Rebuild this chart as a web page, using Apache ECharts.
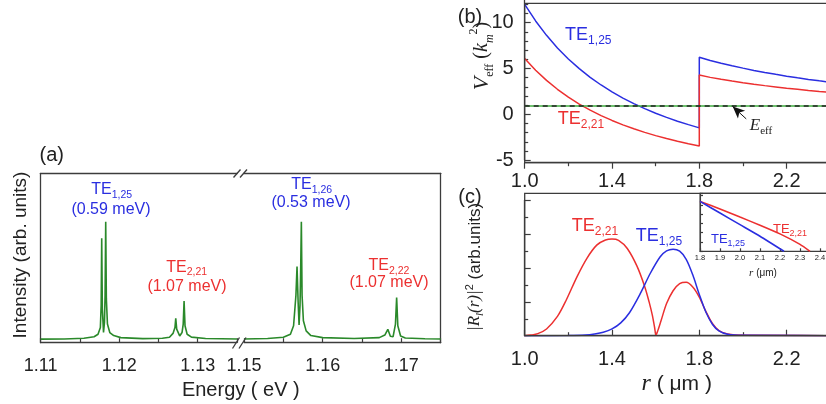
<!DOCTYPE html>
<html>
<head>
<meta charset="utf-8">
<script src="https://cdn.jsdelivr.net/npm/echarts@6/dist/echarts.min.js"></script>
<style>
html, body {margin: 0; padding: 0; background: #fff;}
#main {width: 826px; height: 404px;}
</style>
</head>
<body>
<div id="main"></div>
<script>
// (a) spectrum, split at the axis break
var specLeft = [[1.1100, 2.1], [1.1130, 2.2], [1.1155, 2.6], [1.1168, 3.5], [1.1173, 5.0], [1.1176, 9], [1.11770, 22], [1.11777, 61.6], [1.11785, 20], [1.11800, 6.0], [1.11812, 12], [1.11820, 28], [1.11828, 71.4], [1.11836, 26], [1.11850, 11], [1.1188, 6.0], [1.1193, 4.2], [1.1202, 3.0], [1.1230, 2.4], [1.1255, 2.6], [1.1264, 3.2], [1.12685, 5.5], [1.12710, 9], [1.12720, 14.4], [1.12732, 8], [1.12770, 4.0], [1.12800, 6], [1.12815, 11], [1.12826, 24.6], [1.12838, 10], [1.12865, 5], [1.1292, 3.3], [1.1310, 2.5], [1.1350, 2.2]];
var specRight = [[1.1500, 2.2], [1.1530, 2.5], [1.1550, 3.2], [1.1559, 5], [1.1563, 10], [1.1566, 28], [1.15674, 44.9], [1.15688, 24], [1.15700, 10.4], [1.15712, 22], [1.15721, 45], [1.15729, 71.4], [1.15738, 28], [1.15755, 13], [1.1579, 7], [1.1585, 4.2], [1.1600, 3.0], [1.1640, 2.5], [1.1672, 3.0], [1.1679, 4.5], [1.16828, 7.9], [1.16860, 3.8], [1.16895, 3.6], [1.16925, 11], [1.16940, 26.6], [1.16955, 10], [1.16990, 4.0], [1.1705, 2.8], [1.1730, 2.3], [1.1750, 2.2]];
var aTickStep = 0.005;   // ticks every 0.005 eV, labels every 0.01

// (b) effective potential
var vBlue = [[1.00, 12.0], [1.05, 10.19], [1.10, 8.62], [1.15, 7.24], [1.20, 6.04], [1.25, 4.98], [1.30, 4.04], [1.35, 3.20], [1.40, 2.45], [1.45, 1.77], [1.50, 1.17], [1.55, 0.62], [1.60, 0.12], [1.65, -0.34], [1.70, -0.75], [1.75, -1.13], [1.80, -1.48],
    [1.80, 6.22], [1.85, 5.88], [1.90, 5.58], [1.95, 5.30], [2.00, 5.04], [2.05, 4.79], [2.10, 4.57], [2.15, 4.36], [2.20, 4.16], [2.25, 3.98], [2.30, 3.81], [2.35, 3.65], [2.40, 3.50], [2.45, 3.36], [2.50, 3.22], [2.55, 3.10], [2.60, 2.98]];
var vRed = [[1.00, 6.10], [1.05, 4.81], [1.10, 3.70], [1.15, 2.73], [1.20, 1.87], [1.25, 1.12], [1.30, 0.45], [1.35, -0.14], [1.40, -0.67], [1.45, -1.15], [1.50, -1.58], [1.55, -1.97], [1.60, -2.33], [1.65, -2.65], [1.70, -2.94], [1.75, -3.21], [1.80, -3.46],
    [1.80, 4.28], [1.85, 4.03], [1.90, 3.82], [1.95, 3.63], [2.00, 3.45], [2.05, 3.28], [2.10, 3.13], [2.15, 2.99], [2.20, 2.85], [2.25, 2.73], [2.30, 2.61], [2.35, 2.50], [2.40, 2.40], [2.45, 2.30], [2.50, 2.21], [2.55, 2.12], [2.60, 2.04]];
var effLine = [[1.0, 0.9], [2.6, 0.9]];
var effArrow = [[2.015, -0.5], [1.953, 0.85]];

// (c) radial profiles
var rRed = [[1.00, 0], [1.03, 0.02], [1.06, 0.06], [1.10, 0.20], [1.15, 0.57], [1.19, 1.05], [1.24, 1.75], [1.285, 2.29], [1.33, 2.68], [1.37, 2.83], [1.40, 2.86], [1.43, 2.82], [1.47, 2.58], [1.515, 2.05], [1.55, 1.45], [1.57, 1.0], [1.585, 0.6], [1.595, 0.25], [1.602, 0.02], [1.61, 0.15], [1.625, 0.45], [1.65, 0.95], [1.68, 1.33], [1.71, 1.54], [1.74, 1.58], [1.77, 1.44], [1.80, 1.14], [1.83, 0.72], [1.86, 0.36], [1.89, 0.15], [1.93, 0.05], [2.00, 0.01], [2.60, 0]];
var rBlue = [[1.00, 0], [1.20, 0.005], [1.28, 0.02], [1.32, 0.05], [1.36, 0.10], [1.40, 0.20], [1.44, 0.38], [1.48, 0.68], [1.53, 1.25], [1.575, 1.84], [1.62, 2.33], [1.65, 2.51], [1.68, 2.56], [1.71, 2.50], [1.74, 2.26], [1.77, 1.80], [1.80, 1.22], [1.83, 0.70], [1.86, 0.34], [1.89, 0.14], [1.93, 0.04], [2.00, 0.01], [2.60, 0]];
// inset
var insetBlue = [[1.8, 0.86], [1.9, 0.66], [2.0, 0.46], [2.1, 0.26], [2.22, 0]];
var insetRed = [[1.8, 0.86], [1.9, 0.73], [2.0, 0.59], [2.1, 0.45], [2.2, 0.30], [2.3, 0.12], [2.35, 0]];

var green = '#2a892a', blue = '#2a2ee0', red = '#ec3030', frame = '#3c3c3c', ink = '#222';
var sans = 'Liberation Sans', serif = 'Liberation Serif';

// value axis whose ticks count from min; the axis line is kept on so the ticks get drawn
function axis(o) {
    return {
        gridIndex: o.grid, type: 'value', min: o.min, max: o.max, interval: o.interval,
        position: o.pos, offset: o.offset || 0,
        axisLine: {show: true, onZero: false, lineStyle: {color: frame, width: o.lw || 1.3}},
        axisTick: {show: o.tick !== false, inside: o.inside !== false, length: o.len || 5, lineStyle: {color: frame, width: 1.2}},
        minorTick: {show: !!o.minor, splitNumber: o.minor || 5, length: o.minorLen || 3.5, lineStyle: {color: frame, width: 1.2}},
        axisLabel: {show: !!o.fmt, formatter: o.fmt, fontSize: o.size || 12, color: ink, fontFamily: sans, margin: o.margin || 8},
        splitLine: {show: false}
    };
}
function fix(d) { return function (v) { return v.toFixed(d); }; }
function everyOther(v) { return Math.round(v * 1000) % 10 === 0 ? v.toFixed(2) : ''; }

var xAxes = [
    // (a) bottom and top, each side of the break
    axis({grid: 0, min: 1.11, max: 1.135, interval: aTickStep, pos: 'bottom', len: 4.5, fmt: everyOther, size: 18, margin: 14}),
    axis({grid: 1, min: 1.15, max: 1.175, interval: aTickStep, pos: 'bottom', len: 4.5, fmt: everyOther, size: 18, margin: 14}),
    axis({grid: 0, min: 1.11, max: 1.135, pos: 'top', tick: false}),
    axis({grid: 1, min: 1.15, max: 1.175, pos: 'top', tick: false}),
    // (b)
    axis({grid: 2, min: 1.0, max: 2.6, interval: 0.4, pos: 'bottom', offset: 2.6, inside: false, len: 6, minor: 2, fmt: fix(1), size: 20, margin: 9}),
    // (c)
    axis({grid: 3, min: 1.0, max: 2.6, interval: 0.4, pos: 'bottom', len: 6, minor: 2, fmt: fix(1), size: 20, margin: 14}),
    // inset
    axis({grid: 4, min: 1.8, max: 2.8, interval: 0.1, pos: 'bottom', len: 3, fmt: fix(1), size: 7.5, margin: 3, lw: 1.1})
];
var yAxes = [
    axis({grid: 0, min: 0, max: 100, pos: 'left', tick: false}),
    axis({grid: 1, min: 0, max: 100, pos: 'right', tick: false}),
    axis({grid: 2, min: -5, max: 15, interval: 5, pos: 'left', len: 6, minor: 5, fmt: fix(0), size: 20, margin: 11}),
    axis({grid: 3, min: 0, max: 4, interval: 1, pos: 'left', len: 6, minor: 2}),
    axis({grid: 4, min: 0, max: 1, interval: 0.16, pos: 'left', len: 3, lw: 1.1})
];

function line(name, xi, yi, data, color, width, smooth) {
    return {
        name: name, type: 'line', xAxisIndex: xi, yAxisIndex: yi, data: data,
        showSymbol: false, symbol: 'none', smooth: smooth || false,
        lineStyle: {color: color, width: width}, itemStyle: {color: color}
    };
}

function te(x, y, main, sub, color, size, subSize) {
    return {
        type: 'text', x: x, y: y, z: 100,
        style: {
            text: '{a|' + main + '}{b|' + sub + '}', align: 'center', verticalAlign: 'middle',
            rich: {
                a: {fontSize: size, fontFamily: sans, fill: color, lineHeight: size + 5},
                b: {fontSize: subSize, fontFamily: sans, fill: color, lineHeight: subSize + 1, verticalAlign: 'bottom'}
            }
        }
    };
}
function plain(x, y, text, color, size, rot) {
    return {
        type: 'text', x: x, y: y, z: 100, rotation: rot || 0,
        style: {text: text, align: 'center', verticalAlign: 'middle', fontSize: size, fontFamily: sans, fill: color}
    };
}
function slash(x1, y1, x2, y2) {
    return {type: 'line', z: 100, shape: {x1: x1, y1: y1, x2: x2, y2: y2}, style: {stroke: frame, lineWidth: 1.3}};
}
function box(x, y, w, h) {
    return {type: 'rect', z: 50, shape: {x: x, y: y, width: w, height: h}, style: {fill: 'none', stroke: frame, lineWidth: 1.3}};
}

var series = [
    line('specL', 0, 0, specLeft, green, 1.6),
    line('specR', 1, 1, specRight, green, 1.6),
    line('TE1,25', 4, 2, vBlue, blue, 1.5),
    line('TE2,21', 4, 2, vRed, red, 1.5),
    line('Eeff', 4, 2, effLine, '#3fae3f', 1.5),
    line('EeffDash', 4, 2, effLine, '#222', 1.5),
    line('cRed', 5, 3, rRed, red, 1.5, 0.3),
    line('cBlue', 5, 3, rBlue, blue, 1.5, 0.3),
    line('iRed', 6, 4, insetRed, red, 1.6, 0.2),
    line('iBlue', 6, 4, insetBlue, blue, 1.6, 0.2)
];
series[5].lineStyle.type = [5, 4];
series[5].markLine = {
    silent: true, symbol: ['none', 'arrow'], symbolSize: [8, 12], label: {show: false},
    lineStyle: {color: '#111', type: 'solid', width: 1},
    data: [[{coord: effArrow[0]}, {coord: effArrow[1]}]]
};

var graphics = [
    // (a)
    plain(51.7, 155, '(a)', ink, 20),
    te(111.7, 190, 'TE', '1,25', blue, 16, 10.5),
    plain(111, 210, '(0.59 meV)', blue, 16),
    te(186.7, 267.5, 'TE', '2,21', red, 16, 10.5),
    plain(187, 286.5, '(1.07 meV)', red, 16),
    te(311.7, 185, 'TE', '1,26', blue, 16, 10.5),
    plain(311, 203, '(0.53 meV)', blue, 16),
    te(389, 266, 'TE', '2,22', red, 16, 10.5),
    plain(389, 283, '(1.07 meV)', red, 16),
    plain(21, 255, 'Intensity (arb. units)', ink, 19, Math.PI / 2),
    plain(240.8, 390, 'Energy ( eV )', ink, 20),
    slash(233.5, 177.5, 240.5, 169.5), slash(240, 177.5, 247, 169.5),
    slash(232.5, 348.5, 239.5, 337.5), slash(239, 348.5, 246, 337.5),
    // (b)
    box(524.7, 3.3, 400, 159.4),
    plain(470, 17.5, '(b)', ink, 20),
    te(588.3, 35, 'TE', '1,25', blue, 18, 12),
    te(581, 119, 'TE', '2,21', red, 18, 12),
    {
        type: 'text', x: 761, y: 126, z: 100,
        style: {
            text: '{e|E}{s|eff}', align: 'center', verticalAlign: 'middle',
            rich: {
                e: {fontSize: 17, fontFamily: serif, fontStyle: 'italic', fill: ink, lineHeight: 22},
                s: {fontSize: 11, fontFamily: serif, fill: ink, lineHeight: 12, verticalAlign: 'bottom'}
            }
        }
    },
    {
        type: 'text', x: 482, y: 56, z: 100, rotation: Math.PI / 2,
        style: {
            text: '{v|V}{s|eff}{p| (}{k|k}{m|m}{u|2}{p|)}', align: 'center', verticalAlign: 'middle',
            rich: {
                v: {fontSize: 22, fontFamily: serif, fontStyle: 'italic', fill: ink, lineHeight: 28},
                k: {fontSize: 20, fontFamily: serif, fontStyle: 'italic', fill: ink, lineHeight: 28},
                p: {fontSize: 20, fontFamily: serif, fill: ink, lineHeight: 28},
                s: {fontSize: 12, fontFamily: serif, fill: ink, lineHeight: 13, verticalAlign: 'bottom'},
                m: {fontSize: 12, fontFamily: serif, fontStyle: 'italic', fill: ink, lineHeight: 13, verticalAlign: 'bottom'},
                u: {fontSize: 12, fontFamily: serif, fill: ink, lineHeight: 13, verticalAlign: 'top'}
            }
        }
    },
    // (c)
    box(524.7, 193.3, 400, 142.4),
    plain(470, 197, '(c)', ink, 20),
    te(595, 226.5, 'TE', '2,21', red, 18, 12),
    te(659, 236.5, 'TE', '1,25', blue, 18, 12),
    te(790, 229, 'TE', '2,21', red, 13, 9),
    te(728, 239, 'TE', '1,25', blue, 13, 9),
    {
        type: 'text', x: 763, y: 273, z: 100,
        style: {
            text: '{r|r}{p| (μm)}', align: 'center', verticalAlign: 'middle',
            rich: {
                r: {fontSize: 11, fontFamily: serif, fontStyle: 'italic', fill: ink},
                p: {fontSize: 10, fontFamily: sans, fill: ink}
            }
        }
    },
    {
        type: 'text', x: 676.7, y: 384, z: 100,
        style: {
            text: '{r|r}{p| ( μm )}', align: 'center', verticalAlign: 'middle',
            rich: {
                r: {fontSize: 24, fontFamily: serif, fontStyle: 'italic', fill: ink},
                p: {fontSize: 21, fontFamily: sans, fill: ink}
            }
        }
    },
    {
        type: 'text', x: 475, y: 267, z: 100, rotation: Math.PI / 2,
        style: {
            text: '{i||R}{s|l}{i|(r)|}{u|2}{p| (arb.units)}', align: 'center', verticalAlign: 'middle',
            rich: {
                i: {fontSize: 17, fontFamily: serif, fontStyle: 'italic', fill: ink, lineHeight: 22},
                s: {fontSize: 11, fontFamily: serif, fontStyle: 'italic', fill: ink, lineHeight: 12, verticalAlign: 'bottom'},
                u: {fontSize: 11, fontFamily: sans, fill: ink, lineHeight: 12, verticalAlign: 'top'},
                p: {fontSize: 17, fontFamily: sans, fill: ink, lineHeight: 22}
            }
        }
    }
];

var myChart = echarts.init(document.getElementById('main'));
myChart.setOption({
    animation: false,
    backgroundColor: '#fff',
    grid: [
        {left: 40.7, top: 173.3, width: 196.3, height: 169.4, outerBoundsMode: 'none'},
        {left: 244, top: 173.3, width: 196.7, height: 169.4, outerBoundsMode: 'none'},
        // (b): -5 sits just above the frame bottom, 15 is off the page
        {left: 524.7, top: -23.1, width: 349.2, height: 183.2, outerBoundsMode: 'none'},
        // (c): 0..4, the frame reaches a little above 4
        {left: 524.7, top: 200.5, width: 349.2, height: 135.2, outerBoundsMode: 'none'},
        {left: 700, top: 193.3, width: 200, height: 58, show: true, borderColor: frame, borderWidth: 1.1, outerBoundsMode: 'none'}
    ],
    xAxis: xAxes,
    yAxis: yAxes,
    series: series,
    graphic: graphics
});
</script>
</body>
</html>
